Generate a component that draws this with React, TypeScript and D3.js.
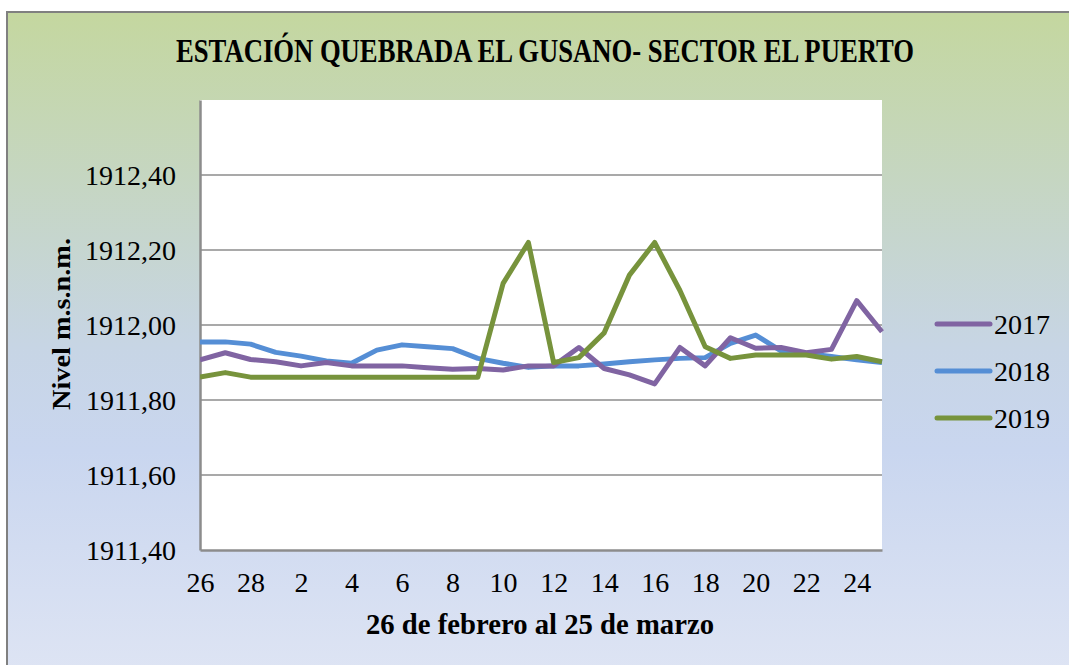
import React, { useEffect, useRef } from 'react';
import * as d3 from 'd3';

// 26 feb .. 25 mar
const days = [26, 27, 28, 1, 2, 3, 4, 5, 6, 7, 8, 9, 10, 11, 12, 13, 14, 15, 16, 17, 18, 19, 20, 21, 22, 23, 24, 25];

const serie2017 = [
  1911.907, 1911.926, 1911.908, 1911.902, 1911.891, 1911.9, 1911.891, 1911.891, 1911.891, 1911.886,
  1911.882, 1911.884, 1911.88, 1911.891, 1911.891, 1911.94, 1911.884, 1911.867, 1911.843, 1911.94,
  1911.891, 1911.966, 1911.938, 1911.94, 1911.926, 1911.935, 1912.065, 1911.982,
];
const serie2018 = [
  1911.955, 1911.955, 1911.949, 1911.927, 1911.917, 1911.904, 1911.898, 1911.933, 1911.947, 1911.942,
  1911.937, 1911.911, 1911.898, 1911.887, 1911.891, 1911.891, 1911.896, 1911.902, 1911.907, 1911.911,
  1911.913, 1911.951, 1911.973, 1911.931, 1911.924, 1911.916, 1911.907, 1911.9,
];
const serie2019 = [
  1911.861, 1911.873, 1911.861, 1911.861, 1911.861, 1911.861, 1911.861, 1911.861, 1911.861, 1911.861,
  1911.861, 1911.861, 1912.111, 1912.22, 1911.9, 1911.913, 1911.979, 1912.133, 1912.22, 1912.092,
  1911.942, 1911.911, 1911.92, 1911.92, 1911.92, 1911.909, 1911.916, 1911.902,
];

const seriesNames = ['2017', '2018', '2019'];
const seriesColors = ['#8064a2', '#558ed5', '#77933c'];
const yTicks = [1911.4, 1911.6, 1911.8, 1912.0, 1912.2, 1912.4];

export default function App() {
  const ref = useRef<SVGSVGElement>(null);

  useEffect(() => {
    document.body.style.margin = '0';
    const width = 1069;
    const height = 665;
    const left = 200, right = 882, top = 100, bottom = 550;
    const svg = d3.select(ref.current);
    svg.selectAll('*').remove();
    svg.attr('width', width).attr('height', height);

    const defs = svg.append('defs');
    const grad = defs.append('linearGradient').attr('id', 'bg').attr('x1', 0).attr('y1', 0).attr('x2', 0).attr('y2', 1);
    grad.append('stop').attr('offset', '0%').attr('stop-color', '#c4d79f');
    grad.append('stop').attr('offset', '50%').attr('stop-color', '#c7d5e5');
    grad.append('stop').attr('offset', '65%').attr('stop-color', '#c9d6ef');
    grad.append('stop').attr('offset', '100%').attr('stop-color', '#dfe5f4');

    svg.append('rect').attr('width', width).attr('height', height).attr('fill', '#fff');
    svg
      .append('rect')
      .attr('x', 7)
      .attr('y', 12)
      .attr('width', width + 10)
      .attr('height', height + 10)
      .attr('fill', 'url(#bg)')
      .attr('stroke', '#808080')
      .attr('stroke-width', 2);

    svg.append('rect').attr('x', left).attr('y', top).attr('width', right - left).attr('height', bottom - top).attr('fill', '#fff');

    const x = d3.scaleLinear().domain([0, days.length - 1]).range([left, right]);
    const y = d3.scaleLinear().domain([1911.4, 1912.6]).range([bottom, top]);

    // grid
    svg
      .append('g')
      .selectAll('line')
      .data(yTicks.slice(1))
      .enter()
      .append('line')
      .attr('x1', left)
      .attr('x2', right)
      .attr('y1', (d) => y(d))
      .attr('y2', (d) => y(d))
      .attr('stroke', '#8c8c8c')
      .attr('stroke-width', 1.5);

    // axes
    const yAxis = d3
      .axisLeft(y)
      .tickValues(yTicks)
      .tickSize(0)
      .tickPadding(24)
      .tickFormat((d) => d3.format('.2f')(d as number).replace('.', ','));
    const gy = svg.append('g').attr('transform', 'translate(' + left + ',0)').call(yAxis);
    gy.select('.domain').attr('stroke', '#8c8c8c').attr('stroke-width', 2.5);
    gy.selectAll('text')
      .attr('font-family', '"Liberation Serif", serif')
      .attr('font-size', 28)
      .attr('fill', '#000')
      .attr('dy', '0.34em');

    const labelIdx = days.map((d, i) => i).filter((i) => i % 2 === 0);
    const xAxis = d3
      .axisBottom(x)
      .tickValues(labelIdx)
      .tickSize(0)
      .tickPadding(22)
      .tickFormat((i) => String(days[i as number]));
    const gx = svg.append('g').attr('transform', 'translate(0,' + bottom + ')').call(xAxis);
    gx.select('.domain').attr('stroke', '#8c8c8c').attr('stroke-width', 2.5);
    gx.selectAll('text')
      .attr('font-family', '"Liberation Serif", serif')
      .attr('font-size', 28)
      .attr('fill', '#000');

    // lines
    const allSeries = [serie2017, serie2018, serie2019];
    const line = d3
      .line<number>()
      .x((d, i) => x(i))
      .y((d) => y(d));
    const clip = defs.append('clipPath').attr('id', 'plot');
    clip.append('rect').attr('x', left).attr('y', top).attr('width', right - left + 3).attr('height', bottom - top);
    const lines = svg.append('g').attr('clip-path', 'url(#plot)');
    [1, 0, 2].forEach((k) => {
      lines
        .append('path')
        .attr('d', line(allSeries[k]))
        .attr('fill', 'none')
        .attr('stroke', seriesColors[k])
        .attr('stroke-width', 5)
        .attr('stroke-linejoin', 'round');
    });

    // legend
    const legend = svg.append('g');
    seriesNames.forEach((name, k) => {
      const ly = 324 + k * 47;
      legend
        .append('line')
        .attr('x1', 937)
        .attr('x2', 990)
        .attr('y1', ly)
        .attr('y2', ly)
        .attr('stroke', seriesColors[k])
        .attr('stroke-width', 5)
        .attr('stroke-linecap', 'round');
      legend
        .append('text')
        .attr('x', 994)
        .attr('y', ly + 10)
        .attr('font-family', '"Liberation Serif", serif')
        .attr('font-size', 28)
        .text(name);
    });

    // titles
    svg
      .append('text')
      .attr('x', 545)
      .attr('y', 62)
      .attr('text-anchor', 'middle')
      .attr('font-family', '"Liberation Serif", serif')
      .attr('font-weight', 'bold')
      .attr('font-size', 34)
      .attr('textLength', 738)
      .attr('lengthAdjust', 'spacingAndGlyphs')
      .text('ESTACIÓN QUEBRADA EL GUSANO- SECTOR EL PUERTO');

    svg
      .append('text')
      .attr('x', 540)
      .attr('y', 634)
      .attr('text-anchor', 'middle')
      .attr('font-family', '"Liberation Serif", serif')
      .attr('font-weight', 'bold')
      .attr('font-size', 29)
      .attr('textLength', 348)
      .attr('lengthAdjust', 'spacingAndGlyphs')
      .text('26 de febrero al 25 de marzo');

    svg
      .append('text')
      .attr('transform', 'translate(70,324) rotate(-90)')
      .attr('text-anchor', 'middle')
      .attr('font-family', '"Liberation Serif", serif')
      .attr('font-weight', 'bold')
      .attr('font-size', 25)
      .attr('textLength', 172)
      .attr('lengthAdjust', 'spacingAndGlyphs')
      .text('Nivel m.s.n.m.');
  }, []);

  return <svg ref={ref} style={{ display: 'block' }} />;
}
